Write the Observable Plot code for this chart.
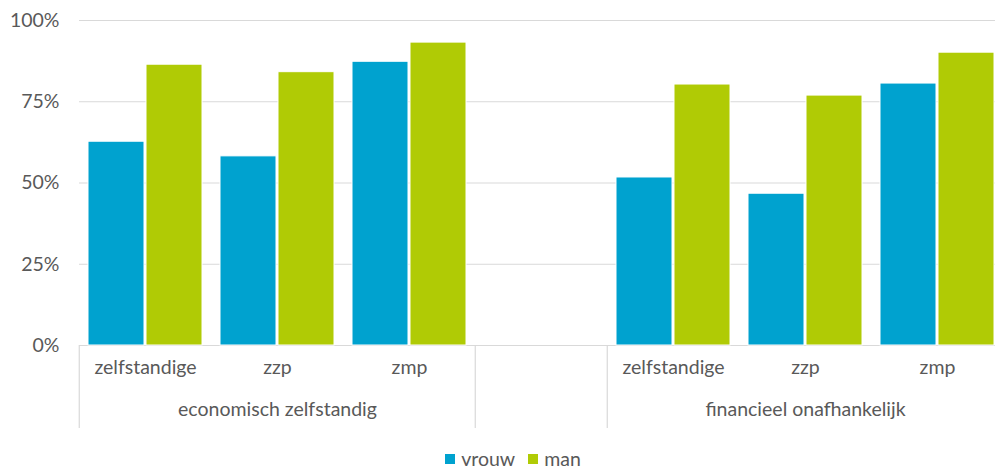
<!DOCTYPE html>
<html>
<head>
<meta charset="utf-8">
<script src="https://cdn.jsdelivr.net/npm/d3@7"></script>
<script src="https://cdn.jsdelivr.net/npm/@observablehq/plot@0.6"></script>
<style>
  html, body { margin: 0; padding: 0; background: #fff; overflow: hidden; }
  #chart svg { display: block; max-width: none !important; }
  div.lg-swatches-wrap { justify-content: center !important; min-height: 0 !important; height: 23px; margin: 0 !important; padding-left: 44px; }
  span.lg-swatch { margin-right: 13px !important; }
  span.lg-swatch > svg { margin-right: 6px !important; }
</style>
</head>
<body>
<div id="chart"></div>
<script>
// ---- data ----
const groups = ["economisch zelfstandig", "financieel onafhankelijk"];
const categories = ["zelfstandige", "zzp", "zmp"];
const series = ["vrouw", "man"];
const vrouw = [62.7, 58.2, 87.3, 51.7, 46.7, 80.6];
const man = [86.4, 84.1, 93.2, 80.3, 76.9, 90.1];
const yTicks = [0, 25, 50, 75, 100];
const colors = ["#00a2cf", "#b0cb05"];

// ---- build tables ----
const GAP = "gap";
const slots = [
  ...categories.map(c => groups[0] + "|" + c),
  GAP,
  ...categories.map(c => groups[1] + "|" + c)
];
const rows = [];
groups.forEach((g, gi) => categories.forEach((c, ci) => {
  const k = gi * categories.length + ci;
  rows.push({slot: g + "|" + c, sex: series[0], value: vrouw[k]});
  rows.push({slot: g + "|" + c, sex: series[1], value: man[k]});
}));
const catLabels = slots.filter(s => s !== GAP).map(s => ({slot: s, text: s.split("|")[1]}));
const groupLabels = groups.map(g => ({slot: g + "|" + categories[1], text: g}));
const separators = [slots[0], GAP, slots[4]];

const W = 995, H = 447, ML = 77, MR = -9.5, MT = 20, MB = 102;
const facetW = (W - ML - MR) / slots.length;
const font = "Lato, 'Open Sans', sans-serif";
const fs = 19.5;
const textColor = "#595959";

const plot = Plot.plot({
  width: W, height: H,
  marginLeft: ML, marginRight: MR, marginTop: MT, marginBottom: MB,
  style: {fontFamily: font, fontSize: fs + "px", color: textColor, background: "#fff"},
  fx: {domain: slots, padding: 0, axis: null, label: null},
  x: {domain: series, paddingInner: 0.03, paddingOuter: 0.145, axis: null, label: null},
  y: {domain: [0, 100], ticks: yTicks, tickFormat: d => d + "%", tickSize: 0, tickPadding: 20, label: null},
  color: {domain: series, range: colors},
  marks: [
    Plot.ruleY(yTicks, {stroke: "#d9d9d9", strokeWidth: 1.2}),
    Plot.barY(rows, {fx: "slot", x: "sex", y: "value", fill: "sex", stroke: "white", strokeWidth: 1}),
    Plot.ruleX(separators, {fx: d => d, x: null, y1: 0, y2: -25.5, dx: -facetW / 2, stroke: "#d9d9d9", strokeWidth: 1.2}),
    Plot.text(catLabels, {fx: "slot", text: "text", frameAnchor: "bottom", dy: 28, fill: textColor, fontSize: fs}),
    Plot.text(groupLabels, {fx: "slot", text: "text", frameAnchor: "bottom", dy: 70, fill: textColor, fontSize: fs})
  ]
});
document.getElementById("chart").appendChild(plot);

const legend = Plot.legend({
  color: {domain: series, range: colors},
  swatchSize: 10,
  className: "lg",
  style: {fontFamily: font, fontSize: fs + "px", color: textColor}
});
document.getElementById("chart").appendChild(legend);
</script>
</body>
</html>
